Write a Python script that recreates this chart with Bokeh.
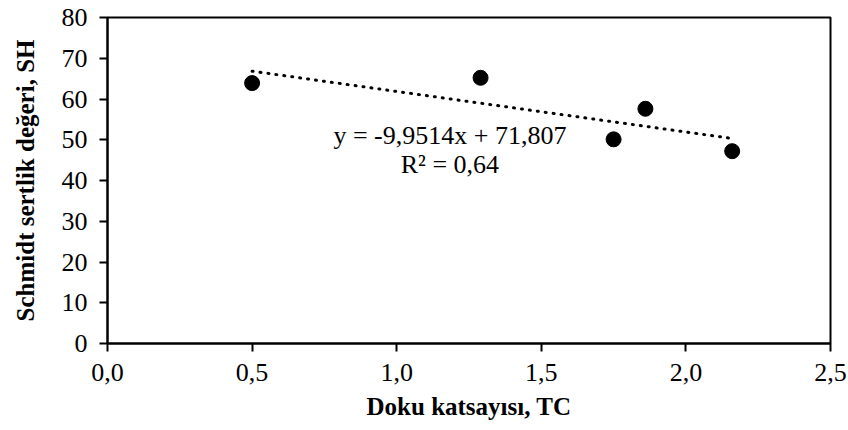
from bokeh.plotting import figure
from bokeh.models import FixedTicker, CustomJSTickFormatter, Range1d, Label, ColumnDataSource
from bokeh.embed import file_html
from bokeh.resources import INLINE
import numpy as np

# data
tc = [0.50, 1.29, 1.75, 1.86, 2.16]
sh = [63.9, 65.2, 50.1, 57.6, 47.2]
slope = -9.9514
intercept = 71.807
r2_text = "R² = 0,64"
eq_text = "y = -9,9514x + 71,807"
x_ticks = [0.0, 0.5, 1.0, 1.5, 2.0, 2.5]
y_ticks = [0, 10, 20, 30, 40, 50, 60, 70, 80]

FONT = "Liberation Serif"

p = figure(width=848, height=430, output_backend="svg", toolbar_location=None,
           x_range=Range1d(0, 2.5), y_range=Range1d(0, 80),
           min_border_left=107, min_border_right=18, min_border_top=17, min_border_bottom=87)

p.xgrid.visible = False
p.ygrid.visible = False
p.outline_line_color = "black"
p.outline_line_width = 2
p.outline_line_alpha = 1.0
p.background_fill_color = "white"
p.border_fill_color = "white"

# trendline
tx = np.array([min(tc), max(tc)])
ty = slope * tx + intercept
p.line(tx, ty, line_color="black", line_width=3, line_dash="1 7", line_cap="round")

src = ColumnDataSource(dict(x=tc, y=sh))
p.scatter("x", "y", source=src, size=15, fill_color="black", line_color="black")

for ax in (p.xaxis[0], p.yaxis[0]):
    ax.axis_line_color = "black"
    ax.axis_line_width = 2
    ax.major_tick_line_color = "black"
    ax.major_tick_line_width = 2
    ax.major_tick_out = 8
    ax.major_tick_in = 0
    ax.minor_tick_line_color = None
    ax.major_label_text_font = FONT
    ax.major_label_text_font_size = "26px"
    ax.major_label_text_color = "black"
    ax.axis_label_text_font = FONT
    ax.axis_label_text_font_size = "25px"
    ax.axis_label_text_font_style = "bold"
    ax.axis_label_text_color = "black"

p.xaxis.ticker = FixedTicker(ticks=x_ticks)
p.yaxis.ticker = FixedTicker(ticks=y_ticks)
p.xaxis.formatter = CustomJSTickFormatter(code="return tick.toFixed(1).replace('.', ',');")
p.xaxis.axis_label = "Doku katsayısı, TC"
p.yaxis.axis_label = "Schmidt sertlik değeri, SH"
p.xaxis.major_label_standoff = 12
p.yaxis.major_label_standoff = 12
p.xaxis.axis_label_standoff = 9
p.yaxis.axis_label_standoff = 20

p.add_layout(Label(x=1.184, y=51.0, text=eq_text, text_font=FONT, text_font_size="26px",
                   text_align="center", text_baseline="alphabetic", text_color="black"))
p.add_layout(Label(x=1.184, y=43.9, text=r2_text, text_font=FONT, text_font_size="26px",
                   text_align="center", text_baseline="alphabetic", text_color="black"))

open("out.html", "w").write(file_html(p, INLINE))
